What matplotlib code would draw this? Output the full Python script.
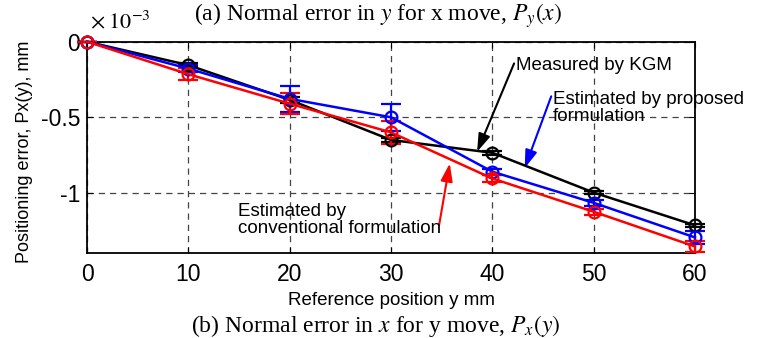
import numpy as np
import matplotlib
matplotlib.use("Agg")
import matplotlib.pyplot as plt

plt.rcParams["font.family"] = ["Liberation Sans", "DejaVu Sans"]

# Reference positions (mm) and errors (x 1e-3 mm)
pos = [0, 10, 20, 30, 40, 50, 60]
measured = [0, -0.155, -0.385, -0.650, -0.735, -0.998, -1.215]
measured_err = [0, 0.012, 0.02, 0.015, 0.012, 0.012, 0.012]
proposed = [0, -0.178, -0.378, -0.500, -0.860, -1.066, -1.295]
proposed_err = [0, 0.025, 0.085, 0.09, 0.02, 0.02, 0.045]
conventional = [0, -0.215, -0.410, -0.600, -0.905, -1.125, -1.355]
conventional_err = [0, 0.04, 0.07, 0.075, 0.02, 0.02, 0.035]

fig = plt.figure(figsize=(7.66, 3.38), dpi=100)
ax = fig.add_axes([0.1136, 0.2506, 0.7937, 0.626])

for vals, err, col in [(measured, measured_err, "black"),
                       (proposed, proposed_err, "blue"),
                       (conventional, conventional_err, "red")]:
    ax.errorbar(pos, vals, yerr=err, color=col, marker="o", markersize=8.5,
                markerfacecolor="none", markeredgewidth=1.6, linewidth=1.8,
                capsize=7.5, elinewidth=1.6, capthick=1.6, clip_on=False, zorder=3)

ax.set_xlim(0, 60)
ax.set_ylim(-1.4, 0)
ax.set_xticks([0, 10, 20, 30, 40, 50, 60])
ax.set_yticks([-1, -0.5, 0])
ax.set_yticklabels(["-1", "-0.5", "0"])
ax.tick_params(direction="in", length=4, labelsize=16.5, top=True, right=True)
ax.tick_params(axis="x", pad=7)
ax.tick_params(axis="y", pad=5)
for s in ax.spines.values():
    s.set_linewidth(1.3)
ax.grid(True, linestyle=(0, (5, 4)), color="#444444", linewidth=0.9)

ax.set_xlabel("Reference position y mm", fontsize=13.5, labelpad=4)
ax.set_ylabel("Positioning error, Px(y), mm", fontsize=13)
ax.yaxis.set_label_coords(-0.089, 0.48)

# annotations
arrow_kw = dict(arrowstyle="-|>,head_length=0.9,head_width=0.3", lw=1.5,
                mutation_scale=12, shrinkA=0, shrinkB=0, patchA=None)
ax.annotate("Measured by KGM", xy=(38.5, -0.728), xytext=(42.3, -0.155),
            fontsize=13.5, va="center", ha="left",
            arrowprops=dict(color="black", relpos=(-0.01, 0.6), **arrow_kw))
ax.annotate("Estimated by proposed\nformulation", xy=(43.2, -0.836),
            xytext=(46.0, -0.44), fontsize=13.5, va="center", ha="left",
            linespacing=1.0,
            arrowprops=dict(color="blue", relpos=(-0.01, 0.85), **arrow_kw))
ax.annotate("Estimated by\nconventional formulation", xy=(35.8, -0.805),
            xytext=(14.9, -1.18), fontsize=13.5, va="center", ha="left",
            linespacing=1.0,
            arrowprops=dict(color="red", relpos=(0.99, 0.35), **arrow_kw))

fig.text(0.117, 0.935, r"$\times\;10^{-3}$", fontsize=16, ha="left", va="center",
         math_fontfamily="stix")

fig.text(0.494, 0.955, r"(a) Normal error in $y$ for x move, $P_y(x)$",
         fontsize=17, ha="center", va="center", family="Liberation Serif",
         math_fontfamily="stix")
fig.text(0.491, 0.035, r"(b) Normal error in $x$ for y move, $P_x(y)$",
         fontsize=17, ha="center", va="center", family="Liberation Serif",
         math_fontfamily="stix")

fig.savefig("out.png", dpi=100)
